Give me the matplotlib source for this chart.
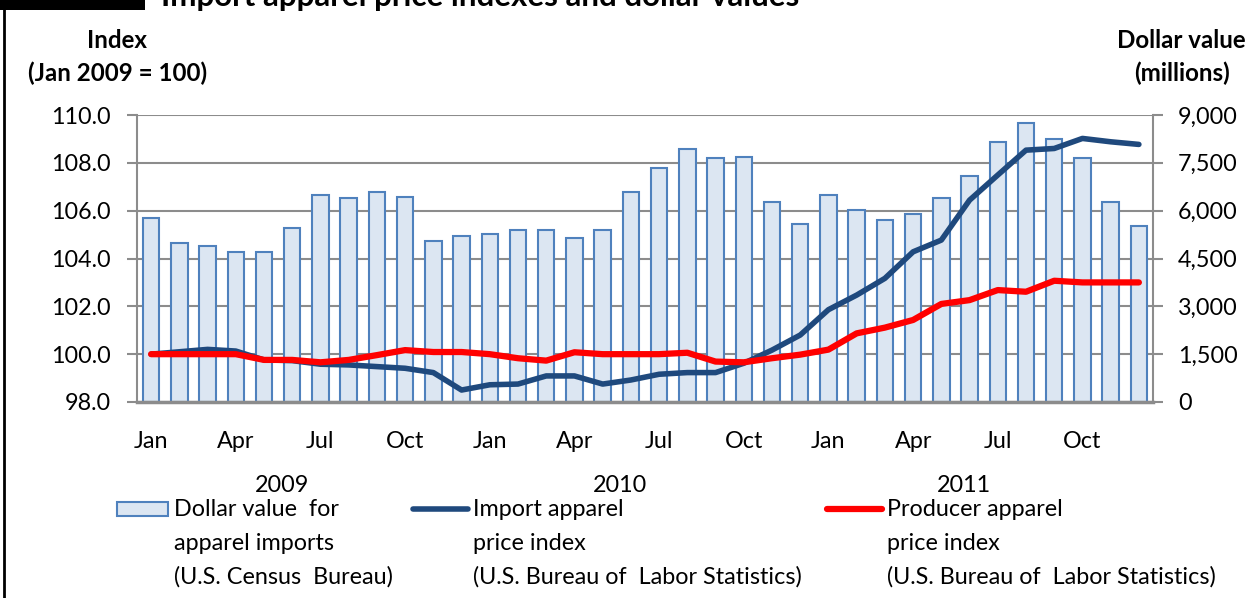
import matplotlib
matplotlib.use('Agg')
import matplotlib.pyplot as plt
from matplotlib.patches import Rectangle
from matplotlib.lines import Line2D
from matplotlib.transforms import blended_transform_factory
import numpy as np

plt.rcParams['font.family'] = ['Lato', 'DejaVu Sans']

# ---------------- data ----------------
month_names = ['Jan', 'Feb', 'Mar', 'Apr', 'May', 'Jun',
               'Jul', 'Aug', 'Sep', 'Oct', 'Nov', 'Dec']
years = ['2009', '2010', '2011']
periods = [f"{m} {y}" for y in years for m in month_names]

dollar_values = [5760, 5000, 4890, 4700, 4700, 5450, 6500, 6390, 6570, 6440, 5060, 5200,
                 5260, 5380, 5380, 5140, 5380, 6570, 7330, 7940, 7640, 7690, 6260, 5570,
                 6500, 6020, 5700, 5890, 6390, 7080, 8140, 8760, 8260, 7640, 6260, 5510]

import_index = [100.0, 100.1, 100.2, 100.13, 99.76, 99.73, 99.58, 99.55, 99.48, 99.41, 99.23, 98.5,
                98.72, 98.75, 99.09, 99.09, 98.75, 98.92, 99.16, 99.23, 99.23, 99.62, 100.17, 100.8,
                101.86, 102.47, 103.17, 104.28, 104.77, 106.44, 107.49, 108.53, 108.6, 109.02, 108.88, 108.77]

producer_index = [100.0, 100.0, 100.0, 100.0, 99.76, 99.76, 99.66, 99.76, 99.96, 100.17, 100.09, 100.09,
                  100.0, 99.83, 99.73, 100.08, 100.0, 100.0, 100.0, 100.06, 99.69, 99.66, 99.83, 99.98,
                  100.19, 100.87, 101.11, 101.43, 102.1, 102.26, 102.68, 102.61, 103.07, 103.0, 103.0, 103.0]

left_ticks = [98.0, 100.0, 102.0, 104.0, 106.0, 108.0, 110.0]
right_ticks = [0, 1500, 3000, 4500, 6000, 7500, 9000]
xtick_labels = ['Jan', 'Apr', 'Jul', 'Oct'] * 3
year_label_pos = [4.65, 16.6, 28.8]

title = 'Import apparel price indexes and dollar values'
legend_labels = ['Dollar value  for\napparel imports\n(U.S. Census  Bureau)',
                 'Import apparel\nprice index\n(U.S. Bureau of  Labor Statistics)',
                 'Producer apparel\nprice index\n(U.S. Bureau of  Labor Statistics)']

# ---------------- styles ----------------
BAR_FACE = '#DCE6F2'
BAR_EDGE = '#4F81BD'
NAVY = '#1F497D'
RED = '#FF0000'
GRID = '#8C8C8C'
FS = 16.8
FSB = 17.4

W, H = 1260, 598
fig = plt.figure(figsize=(W / 100, H / 100), dpi=100)


def fx(px):
    return px / W


def fy(py):
    return 1 - py / H


ax = fig.add_axes([fx(137), fy(402), fx(1153 - 137), 287 / H])
ax2 = ax.twinx()
ax.set_zorder(ax2.get_zorder() + 1)
ax.patch.set_visible(False)

x = np.arange(len(periods))
ax2.bar(x, dollar_values, width=0.58, color=BAR_FACE, edgecolor=BAR_EDGE, linewidth=1.5, zorder=2)
ax2.set_ylim(0, 9000)
ax2.set_axisbelow(True)
ax2.yaxis.grid(True, color=GRID, linewidth=1.5)

ax.plot(x, import_index, color=NAVY, linewidth=4, solid_joinstyle='round', solid_capstyle='round', zorder=2)
ax.plot(x, producer_index, color=RED, linewidth=4.5, solid_joinstyle='round', solid_capstyle='round', zorder=3)
ax.set_ylim(98, 110)
ax.set_xlim(-0.5, len(periods) - 0.5)

# spines
for a in (ax, ax2):
    for s in a.spines.values():
        s.set_visible(False)
ax.spines['left'].set_visible(True)
ax.spines['left'].set_color(GRID)
ax.spines['left'].set_linewidth(1.5)
ax.spines['bottom'].set_visible(True)
ax.spines['bottom'].set_color(GRID)
ax.spines['bottom'].set_linewidth(2.5)
ax2.spines['right'].set_visible(True)
ax2.spines['right'].set_color(GRID)
ax2.spines['right'].set_linewidth(1.5)

ax.set_yticks(left_ticks)
ax.set_yticklabels([f"{v:.1f}" for v in left_ticks])
ax.tick_params(axis='y', direction='out', length=7, width=1.5, color=GRID, labelsize=FS, pad=12)
ax2.set_yticks(right_ticks)
ax2.set_yticklabels([f"{v:,}" for v in right_ticks])
ax2.tick_params(axis='y', direction='out', length=7, width=1.5, color=GRID, labelsize=FS, pad=11)

ax.set_xticks(x[::3])
ax.set_xticklabels(xtick_labels)
ax.tick_params(axis='x', length=0, labelsize=FS, pad=21)

trans = blended_transform_factory(ax.transData, ax.transAxes)
for pos, yr in zip(year_label_pos, years):
    ax.text(pos, (402 - 485) / 287, yr, transform=trans, ha='center', va='center', fontsize=FS)

# axis titles
fig.text(fx(117), fy(41), 'Index', ha='center', va='center', fontsize=FSB, fontweight='bold')
fig.text(fx(118), fy(73), '(Jan 2009 = 100)', ha='center', va='center', fontsize=FSB, fontweight='bold')
fig.text(fx(1181), fy(41), 'Dollar value', ha='center', va='center', fontsize=FSB, fontweight='bold')
fig.text(fx(1182), fy(73), '(millions)', ha='center', va='center', fontsize=FSB, fontweight='bold')

# title (clipped at top, as in the source) and decorations
fig.patches.append(Rectangle((0, fy(10)), fx(145), 10 / H, transform=fig.transFigure,
                             facecolor='black', edgecolor='none'))
fig.text(fx(161), fy(6), title, ha='left', va='baseline', fontsize=22.5, fontweight='bold')
fig.lines.append(Line2D([fx(4), fx(4)], [0, 1], transform=fig.transFigure, color='black', linewidth=2))

# legend (manual)
fig.patches.append(Rectangle((fx(117), fy(516)), fx(51), 14 / H, transform=fig.transFigure,
                             facecolor=BAR_FACE, edgecolor=BAR_EDGE, linewidth=1.5))
fig.lines.append(Line2D([fx(413), fx(468)], [fy(509), fy(509)], transform=fig.transFigure,
                        color=NAVY, linewidth=4, solid_capstyle='round'))
fig.lines.append(Line2D([fx(827), fx(882)], [fy(509), fy(509)], transform=fig.transFigure,
                        color=RED, linewidth=4.5, solid_capstyle='round'))
legend_x = [174, 473, 887]
row_y = [510, 543, 577]
for lx, lab in zip(legend_x, legend_labels):
    for ry, line in zip(row_y, lab.split('\n')):
        fig.text(fx(lx), fy(ry), line, ha='left', va='center', fontsize=FS)

fig.savefig('out.png', dpi=100)
